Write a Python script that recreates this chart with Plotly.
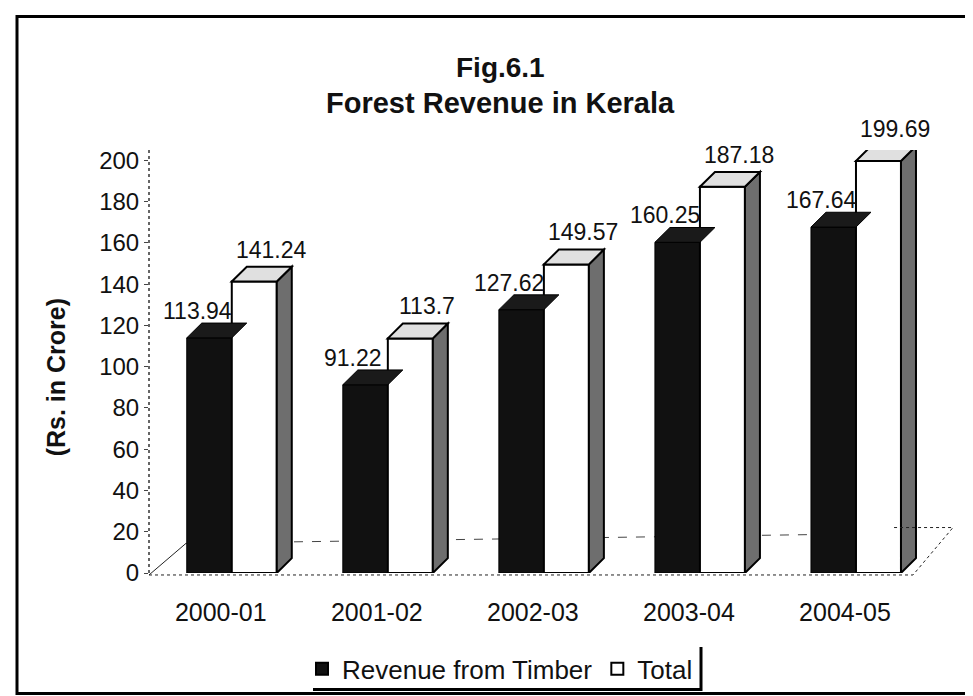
import plotly.graph_objects as go

categories = ["2000-01", "2001-02", "2002-03", "2003-04", "2004-05"]
timber = [113.94, 91.22, 127.62, 160.25, 167.64]
total = [141.24, 113.7, 149.57, 187.18, 199.69]
timber_labels = ["113.94", "91.22", "127.62", "160.25", "167.64"]
total_labels = ["141.24", "113.7", "149.57", "187.18", "199.69"]
y_ticks = list(range(0, 201, 20))

FONT = "Liberation Sans, Arial, sans-serif"
L, R, T, B = 141, 58, 142, 126
X0, X1 = -0.46, 4.5
YMAX = 205
PW = 973 - L - R
PH = 696 - T - B
PPX = PW / (X1 - X0)      # pixels per category unit
PPU = PH / YMAX           # pixels per value unit
W_BAR = 45 / PPX
B_OFF = -34 / PPX         # timber bar left edge relative to category
DX = 15 / PPX
DY = 15 / PPU

fig = go.Figure()
idx = list(range(len(categories)))

fig.add_trace(go.Bar(
    x=idx, y=timber, name="Revenue from Timber",
    offset=B_OFF, width=W_BAR,
    marker=dict(color="#111111", line=dict(color="#000000", width=1)),
))
fig.add_trace(go.Bar(
    x=idx, y=total, name="Total",
    offset=B_OFF + W_BAR, width=W_BAR,
    marker=dict(color="#ffffff", line=dict(color="#000000", width=2)),
))

shapes = []
for i, (a, b) in enumerate(zip(timber, total)):
    x0 = i + B_OFF
    x1 = x0 + W_BAR
    shapes.append(dict(type="path", xref="x", yref="y",
                       path=f"M {x0},{a} L {x0+DX},{a+DY} L {x1+DX},{a+DY} L {x1},{a} Z",
                       fillcolor="#1a1a1a", line=dict(color="#000", width=1), layer="above"))
    x0 = x1
    x1 = x0 + W_BAR
    shapes.append(dict(type="path", xref="x", yref="y",
                       path=f"M {x1},0 L {x1+DX},{DY} L {x1+DX},{b+DY} L {x1},{b} Z",
                       fillcolor="#6e6e6e", line=dict(color="#000", width=2), layer="above"))
    shapes.append(dict(type="path", xref="x", yref="y",
                       path=f"M {x0},{b} L {x0+DX},{b+DY} L {x1+DX},{b+DY} L {x1},{b} Z",
                       fillcolor="#e0e0e0", line=dict(color="#000", width=2), layer="above"))

def px(xp):
    return (xp - L) / PW
def py(yp):
    return (696 - B - yp) / PH

# dotted value axis line
shapes.append(dict(type="line", xref="paper", yref="paper",
                   x0=0, y0=0, x1=0, y1=1,
                   line=dict(color="#333", width=1.5, dash="dot")))
# floor outline
shapes.append(dict(type="path", xref="paper", yref="paper",
                   path=f"M {px(141)},{py(572)} L {px(905)},{py(572)} L {px(945)},{py(524)} L {px(885)},{py(524)}",
                   line=dict(color="#222", width=1, dash="dot")))
shapes.append(dict(type="line", xref="paper", yref="paper",
                   x0=px(141), y0=py(572), x1=px(178), y1=py(540),
                   line=dict(color="#222", width=1)))
shapes.append(dict(type="line", xref="paper", yref="paper",
                   x0=px(178), y0=py(540), x1=px(885), y1=py(530),
                   line=dict(color="#444", width=1, dash="dash"), layer="below"))
# outer frame
shapes.append(dict(type="rect", xref="paper", yref="paper",
                   x0=px(9), y0=py(7), x1=px(969), y1=py(692),
                   line=dict(color="#000", width=3), fillcolor="rgba(0,0,0,0)", layer="below"))
# legend shadow
shapes.append(dict(type="path", xref="paper", yref="paper",
                   path=f"M {px(693)},{py(645)} L {px(693)},{py(688)} L {px(305)},{py(688)}",
                   line=dict(color="#000", width=3)))

annotations = []
for i, (a, b) in enumerate(zip(timber, total)):
    annotations.append(dict(x=i + B_OFF + W_BAR / 2, y=a, xref="x", yref="y", text=timber_labels[i],
                            showarrow=False, xanchor="center", yanchor="bottom",
                            xshift=-12, yshift=DY * PPU - 3,
                            font=dict(family=FONT, size=23, color="#111")))
    annotations.append(dict(x=i + B_OFF + 1.5 * W_BAR, y=b, xref="x", yref="y", text=total_labels[i],
                            showarrow=False, xanchor="center", yanchor="bottom",
                            xshift=17, yshift=DY * PPU + 2,
                            font=dict(family=FONT, size=23, color="#111")))

annotations.append(dict(x=px(492), y=py(59), xref="paper", yref="paper",
                        text="<b>Fig.6.1</b>", showarrow=False, xanchor="center", yanchor="middle",
                        font=dict(family=FONT, size=28, color="#111")))
annotations.append(dict(x=px(492), y=py(94), xref="paper", yref="paper",
                        text="<b>Forest Revenue in Kerala</b>", showarrow=False,
                        xanchor="center", yanchor="middle",
                        font=dict(family=FONT, size=29, color="#111")))
annotations.append(dict(x=px(48), y=py(372), xref="paper", yref="paper",
                        text="<b>(Rs. in Crore)</b>", showarrow=False, textangle=-90,
                        xanchor="center", yanchor="middle",
                        font=dict(family=FONT, size=25, color="#111")))

fig.update_layout(
    width=973, height=696,
    margin=dict(l=L, r=R, t=T, b=B),
    paper_bgcolor="white", plot_bgcolor="white",
    barmode="overlay",
    showlegend=True,
    legend=dict(orientation="h", x=px(294), xanchor="left", y=py(667), yanchor="middle",
                font=dict(family=FONT, size=26, color="#111"),
                borderwidth=0, bgcolor="rgba(0,0,0,0)",
                itemsizing="constant", traceorder="normal",
                itemwidth=30),
    shapes=shapes,
    annotations=annotations,
    font=dict(family=FONT, color="#111"),
)
fig.update_xaxes(
    tickmode="array", tickvals=idx, ticktext=categories,
    range=[X0, X1],
    showline=False, showgrid=False, zeroline=False,
    ticks="", ticklabelstandoff=22,
    tickfont=dict(family=FONT, size=25, color="#111"),
)
fig.update_yaxes(
    range=[0, YMAX], tickvals=y_ticks,
    showline=False,
    showgrid=False, zeroline=False,
    ticks="outside", ticklen=4, tickcolor="#444",
    tickfont=dict(family=FONT, size=24, color="#111"),
)

fig.write_html("out.html")
